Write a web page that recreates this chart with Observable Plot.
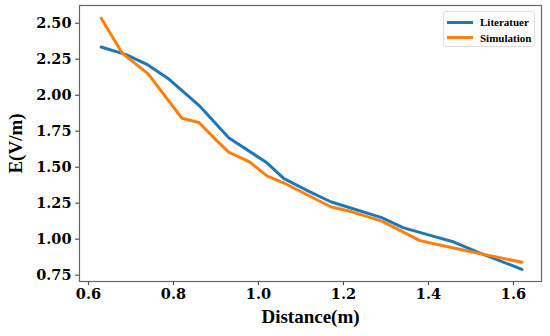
<!DOCTYPE html>
<html>
<head>
<meta charset="utf-8">
<script src="https://cdn.jsdelivr.net/npm/d3@7"></script>
<script src="https://cdn.jsdelivr.net/npm/@observablehq/plot@0.6"></script>
<style>
  html, body { margin: 0; padding: 0; background: #fff; }
  #wrap { position: relative; width: 550px; height: 336px; }
  #legend { position: absolute; left: 443px; top: 11px; width: 92px; height: 36px; border: 1px solid #ddd; border-radius: 3px; background: #fff; font-family: "Liberation Serif", "Times New Roman", serif; font-weight: bold; font-size: 11px; box-sizing: border-box; }
  .row { position: absolute; left: 3px; display: flex; align-items: center; height: 14px; }
  .sw { width: 26px; height: 3px; margin-right: 7px; }
</style>
</head>
<body>
<div id="wrap"></div>
<script>
const litX = [0.63, 0.69, 0.74, 0.79, 0.86, 0.93, 1.02, 1.06, 1.12, 1.17, 1.29, 1.34, 1.40, 1.46, 1.52, 1.62];
const litY = [2.335, 2.28, 2.21, 2.11, 1.93, 1.705, 1.53, 1.42, 1.33, 1.26, 1.15, 1.08, 1.03, 0.98, 0.905, 0.79];
const simX = [0.63, 0.68, 0.74, 0.82, 0.86, 0.90, 0.93, 0.98, 1.02, 1.06, 1.17, 1.22, 1.29, 1.38, 1.41, 1.52, 1.62];
const simY = [2.535, 2.29, 2.15, 1.84, 1.81, 1.69, 1.605, 1.535, 1.44, 1.39, 1.225, 1.19, 1.125, 0.99, 0.97, 0.90, 0.84];
const xTicks = [0.6, 0.8, 1.0, 1.2, 1.4, 1.6];
const yTicks = [0.75, 1.00, 1.25, 1.50, 1.75, 2.00, 2.25, 2.50];
const seriesNames = ["Literatuer", "Simulation"];
const seriesColors = ["#1f77b4", "#ff7f0e"];

const lit = litX.map((x, i) => ({x, y: litY[i]}));
const sim = simX.map((x, i) => ({x, y: simY[i]}));

const tickFont = {fontFamily: "DejaVu Serif", fontWeight: "bold", fontSize: 14.5};
const labelFont = {fontFamily: "Liberation Serif", fontWeight: "bold", fontSize: 19};

const chart = Plot.plot({
  width: 550,
  height: 336,
  marginLeft: 79,
  marginRight: 9,
  marginTop: 5,
  marginBottom: 55,
  style: {fontFamily: "Liberation Serif", fontWeight: "bold", color: "#000", background: "#fff"},
  x: {domain: [0.579, 1.666]},
  y: {domain: [0.706, 2.623]},
  marks: [
    Plot.axisX({ticks: xTicks, tickFormat: d3.format(".1f"), tickSize: 4, tickPadding: 3, stroke: "#333", label: null, ...tickFont}),
    Plot.axisX({ticks: [], tickSize: 0, label: "Distance(m)", labelAnchor: "center", labelArrow: "none", labelOffset: 41, ...labelFont}),
    Plot.axisY({ticks: yTicks, tickFormat: d3.format(".2f"), tickSize: 4, tickPadding: 4, stroke: "#333", label: null, ...tickFont}),
    Plot.axisY({ticks: [], tickSize: 0, label: "E(V/m)", labelAnchor: "center", labelArrow: "none", labelOffset: 71, ...labelFont}),
    Plot.line(lit, {x: "x", y: "y", stroke: seriesColors[0], strokeWidth: 3}),
    Plot.line(sim, {x: "x", y: "y", stroke: seriesColors[1], strokeWidth: 3}),
    Plot.frame({stroke: "#666", strokeWidth: 1.2})
  ]
});
const wrap = document.getElementById("wrap");
wrap.appendChild(chart);
const legend = document.createElement("div");
legend.id = "legend";
seriesNames.forEach((n, i) => {
  const r = document.createElement("div");
  r.className = "row";
  r.style.top = (3 + i * 15.5) + "px";
  r.innerHTML = `<span class="sw" style="background:${seriesColors[i]}"></span><span>${n}</span>`;
  legend.appendChild(r);
});
wrap.appendChild(legend);
</script>
</body>
</html>
